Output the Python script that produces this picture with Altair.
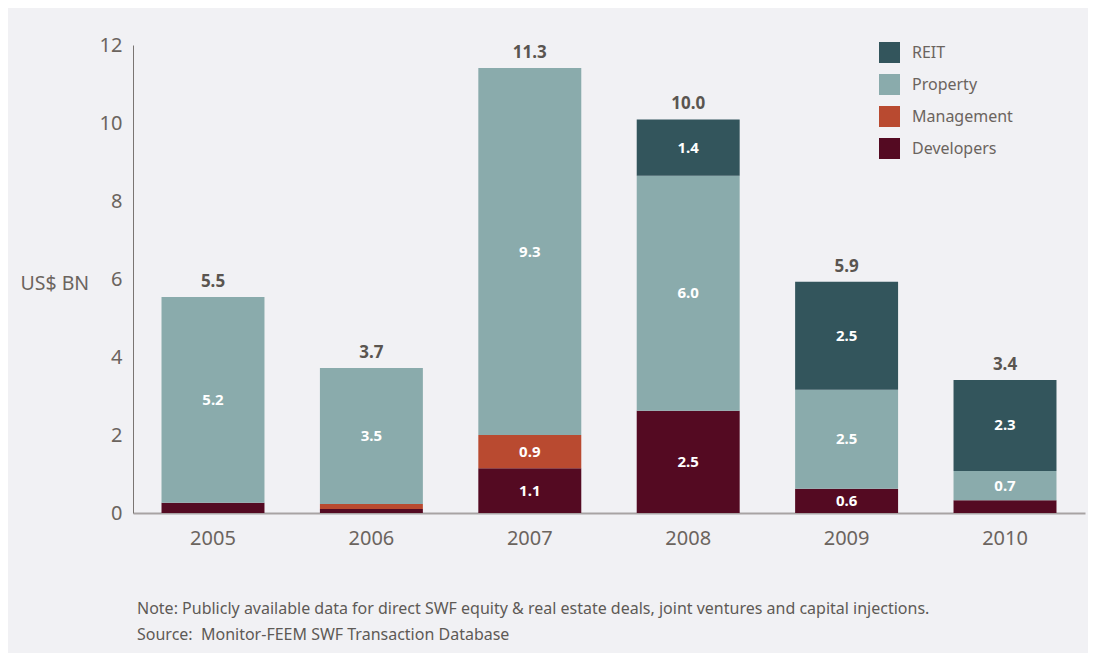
import altair as alt
import pandas as pd

years = ["2005", "2006", "2007", "2008", "2009", "2010"]
categories = ["Developers", "Management", "Property", "REIT"]
legend_order = ["REIT", "Property", "Management", "Developers"]
legend_colors = ["#33555c", "#8aabac", "#b94a30", "#540a22"]

developers = [0.26, 0.10, 1.15, 2.62, 0.62, 0.33]
management = [0.0, 0.13, 0.85, 0.0, 0.0, 0.0]
property_ = [5.28, 3.49, 9.41, 6.03, 2.54, 0.75]
reit = [0.0, 0.0, 0.0, 1.44, 2.77, 2.33]

dev_labels = ["", "", "1.1", "2.5", "0.6", ""]
mgmt_labels = ["", "", "0.9", "", "", ""]
prop_labels = ["5.2", "3.5", "9.3", "6.0", "2.5", "0.7"]
reit_labels = ["", "", "", "1.4", "2.5", "2.3"]
total_labels = ["5.5", "3.7", "11.3", "10.0", "5.9", "3.4"]

note_lines = [
    "Note: Publicly available data for direct SWF equity & real estate deals, joint ventures and capital injections.",
    "Source:\u00a0 Monitor-FEEM SWF Transaction Database",
]

FONT = "Noto Sans"
TXT = "#6b645e"

series = [developers, management, property_, reit]
labels = [dev_labels, mgmt_labels, prop_labels, reit_labels]
rows = []
for i, yr in enumerate(years):
    for k, cat in enumerate(categories):
        rows.append({"year": yr, "category": cat, "order": k,
                     "value": series[k][i], "label": labels[k][i]})
df = pd.DataFrame(rows)
tot = pd.DataFrame({
    "year": years,
    "total": [sum(s[i] for s in series) for i in range(len(years))],
    "label": total_labels,
})

xscale = alt.Scale(paddingInner=0.35, paddingOuter=0.18)
yscale = alt.Scale(domain=[0, 12], nice=False)

xaxis = alt.Axis(
    title=None, labelAngle=0, ticks=False, labelPadding=15,
    labelFontSize=20, labelColor=TXT, labelFont=FONT,
    domainColor="#a8a3a3", domainWidth=2)
yaxis = alt.Axis(
    title="US$ BN", titleAngle=0, titleAlign="left", titleBaseline="middle",
    titleX=-113, titleY=238, titleFontSize=19.5, titleFontWeight="normal",
    titleColor=TXT, titleFont=FONT,
    values=[0, 2, 4, 6, 8, 10, 12], format="d", ticks=False, labelPadding=11,
    labelFontSize=20, labelColor=TXT, labelFont=FONT,
    domainColor="#7a7572", domainWidth=1, grid=False)

bars = alt.Chart(df).mark_bar().encode(
    x=alt.X("year:N", scale=xscale, axis=xaxis),
    y=alt.Y("value:Q", stack="zero", scale=yscale, axis=yaxis, title="US$ BN"),
    color=alt.Color("category:N", scale=alt.Scale(domain=legend_order, range=legend_colors),
                    legend=alt.Legend(
                        title=None, orient="none", legendX=746, legendY=-3,
                        symbolType="square", symbolSize=441, symbolStrokeWidth=0,
                        symbolOpacity=1, labelFontSize=16, labelColor=TXT, labelFont=FONT,
                        labelOffset=12, rowPadding=11)),
    order=alt.Order("order:Q", sort="ascending"),
)

seg = alt.Chart(df).transform_stack(
    stack="value", groupby=["year"], sort=[alt.SortField("order", "ascending")],
    as_=["y0", "y1"],
).transform_calculate(mid="(datum.y0 + datum.y1) / 2").transform_filter(
    "datum.label != ''"
).mark_text(color="white", fontWeight="bold", fontSize=15, font=FONT, baseline="middle").encode(
    x=alt.X("year:N", scale=xscale, axis=xaxis),
    y=alt.Y("mid:Q", scale=yscale, axis=yaxis, title="US$ BN"),
    text="label:N",
)

totals = alt.Chart(tot).mark_text(
    baseline="bottom", dy=-6, fontWeight="bold", fontSize=17, font=FONT, color="#5a5550"
).encode(
    x=alt.X("year:N", scale=xscale, axis=xaxis),
    y=alt.Y("total:Q", scale=yscale, axis=yaxis, title="US$ BN"),
    text="label:N",
)

chart = alt.layer(bars, seg, totals).properties(
    width=952, height=468,
    padding={"left": 125, "top": 37, "right": 3, "bottom": 140},
    autosize=alt.AutoSizeParams(type="none"),
    background="#f1f1f4",
    title=alt.TitleParams(
        text=note_lines, orient="bottom", anchor="start", frame="group",
        fontSize=16, fontWeight="normal", font=FONT, color="#5e5a56",
        lineHeight=26, offset=53, dx=4),
).configure_view(strokeWidth=0)

chart.save("out.html", embed_options={"renderer": "svg", "actions": False})
